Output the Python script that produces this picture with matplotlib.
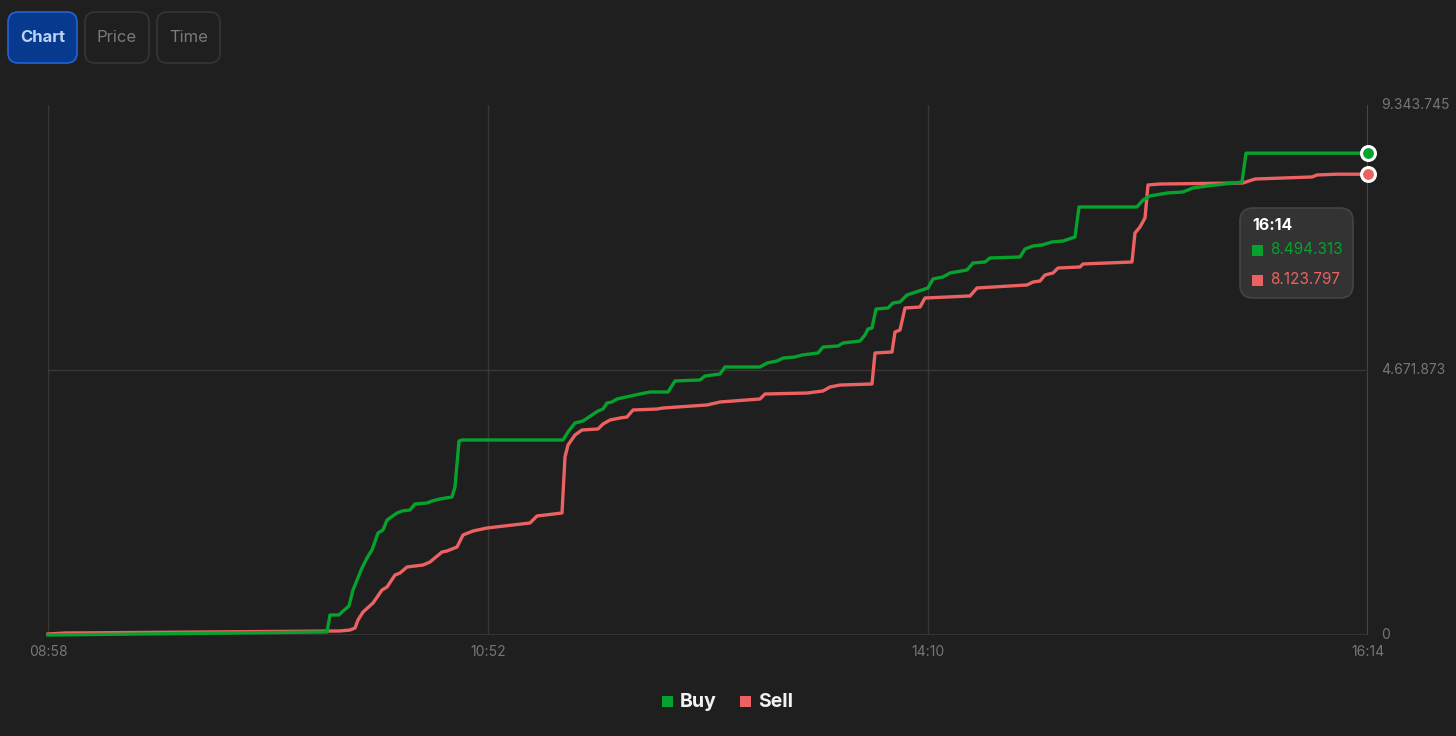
"""
Cumulative Buy / Sell volume chart (dark theme)
"""

import numpy as np
import matplotlib
matplotlib.use('Agg')
import matplotlib.pyplot as plt
from matplotlib.patches import FancyBboxPatch, Rectangle

#---------------------------------------------------------------------------------------------------
# Data (x = trade index along the session, y = cumulative volume in millions)
#---------------------------------------------------------------------------------------------------

buy_x = [0, 279, 282, 291, 294, 301, 305, 314, 319, 324, 330, 335, 339, 349, 354, 362, 367, 379,
         384, 392, 404, 407, 411, 414, 515, 520, 527, 535, 544, 550, 555, 559, 564, 569, 592, 602,
         620, 627, 652, 657, 672, 677, 712, 719, 729, 735, 747, 754, 770, 775, 790, 795, 812, 817,
         820, 824, 828, 840, 845, 852, 859, 865, 880, 885, 895, 902, 919, 925, 937, 942, 972, 977,
         985, 994, 1004, 1015, 1027, 1031, 1089, 1095, 1102, 1119, 1135, 1145, 1159, 1194, 1198, 1320]
buy_y = [0.0, 0.053, 0.353, 0.353, 0.405, 0.511, 0.793, 1.181, 1.358, 1.499, 1.798, 1.851, 2.027,
         2.151, 2.186, 2.204, 2.310, 2.327, 2.362, 2.398, 2.433, 2.609, 3.420, 3.438, 3.438, 3.579,
         3.738, 3.773, 3.879, 3.949, 3.984, 4.090, 4.108, 4.161, 4.249, 4.284, 4.284, 4.478, 4.496,
         4.566, 4.601, 4.725, 4.725, 4.795, 4.830, 4.883, 4.901, 4.936, 4.972, 5.077, 5.095, 5.148,
         5.183, 5.289, 5.395, 5.412, 5.747, 5.765, 5.853, 5.871, 5.994, 6.029, 6.118, 6.276, 6.312,
         6.382, 6.435, 6.558, 6.576, 6.647, 6.664, 6.805, 6.858, 6.876, 6.929, 6.946, 7.017, 7.546,
         7.546, 7.669, 7.740, 7.792, 7.810, 7.881, 7.916, 7.986, 8.494313, 8.494313]

sell_x = [0, 17, 292, 302, 307, 310, 315, 325, 334, 339, 347, 352, 359, 375, 382, 394, 399, 409,
          415, 425, 439, 482, 489, 514, 517, 520, 527, 534, 550, 555, 562, 572, 579, 585, 609, 615,
          659, 672, 712, 717, 759, 775, 782, 792, 824, 827, 844, 847, 852, 857, 872, 877, 922, 929,
          979, 985, 992, 997, 1005, 1010, 1032, 1035, 1084, 1087, 1092, 1097, 1100, 1112, 1195,
          1207, 1264, 1269, 1289, 1320]
sell_y = [0.018, 0.035, 0.071, 0.088, 0.123, 0.264, 0.405, 0.564, 0.793, 0.846, 1.058, 1.093,
          1.199, 1.234, 1.287, 1.463, 1.481, 1.551, 1.763, 1.834, 1.886, 1.975, 2.098, 2.151, 3.138,
          3.350, 3.526, 3.614, 3.632, 3.720, 3.790, 3.826, 3.843, 3.967, 3.984, 4.002, 4.055, 4.108,
          4.161, 4.249, 4.266, 4.302, 4.372, 4.407, 4.425, 4.972, 4.989, 5.342, 5.377, 5.765, 5.782,
          5.941, 5.977, 6.118, 6.171, 6.223, 6.241, 6.347, 6.382, 6.470, 6.488, 6.541, 6.576, 7.087,
          7.193, 7.352, 7.934, 7.951, 7.969, 8.039, 8.075, 8.110, 8.124, 8.123797]

x_ticks = [0, 440, 880, 1320]
x_labels = ['08:58', '10:52', '14:10', '16:14']
y_ticks = [0, 4671873, 9343745]

buy_last = 8494313
sell_last = 8123797
last_time = '16:14'

buttons = ['Chart', 'Price', 'Time']

#---------------------------------------------------------------------------------------------------
# Style
#---------------------------------------------------------------------------------------------------

bg = '#1f1f1f'
grid_c = '#373737'
tick_c = '#767676'
green = '#05a22e'
red = '#ec6262'
W, H = 1456, 736

plt.rcParams['font.family'] = ['Inter', 'DejaVu Sans']


def fx(px):
    return px / W


def fy(py):
    return 1 - py / H


def fmt(v):
    return f"{int(v):,}".replace(',', '.')


#---------------------------------------------------------------------------------------------------
# Make Plot
#---------------------------------------------------------------------------------------------------

fig = plt.figure(figsize=(W / 100, H / 100), dpi=100, facecolor=bg)
ax = fig.add_axes([fx(48), fy(635), fx(1320), 530 / H])
ax.set_facecolor(bg)

ax.set_xlim(x_ticks[0], x_ticks[-1])
ax.set_ylim(0, y_ticks[-1])
for s in ax.spines.values():
    s.set_visible(False)
ax.set_xticks([])
ax.set_yticks([])

# grid
for xv in x_ticks[:-1]:
    ax.axvline(xv, color=grid_c, lw=1, zorder=1)
ax.axvline(x_ticks[-1], color='#4a4a4a', lw=1.3, zorder=1)
ax.axhline(y_ticks[1], color=grid_c, lw=1, zorder=1)
ax.axhline(0, color=grid_c, lw=1.3, zorder=1)

bx = np.array(buy_x)
by = np.array(buy_y) * 1e6
sx = np.array(sell_x)
sy = np.array(sell_y) * 1e6

ax.plot(sx, sy, color=red, lw=2.4, solid_joinstyle='round', zorder=3, clip_on=False)
ax.plot(bx, by, color=green, lw=2.4, solid_joinstyle='round', zorder=3, clip_on=False)

ax.plot([bx[-1]], [by[-1]], 'o', ms=10, color=green, mec='white', mew=2.2, zorder=5, clip_on=False)
ax.plot([sx[-1]], [sy[-1]], 'o', ms=10, color=red, mec='white', mew=2.2, zorder=5, clip_on=False)

# tick labels
for xv, lab in zip(x_ticks, x_labels):
    ax.text(xv, -17 * y_ticks[-1] / 530, lab, color=tick_c, fontsize=10, ha='center', va='center')
for yv in y_ticks:
    ax.text(x_ticks[-1] + 13, yv, fmt(yv), color=tick_c, fontsize=10, ha='left', va='center',
            clip_on=False)

# buttons
btn_pos = [(8, 12, 69), (85, 12, 64), (157, 12, 63)]
for lab, (bx0, by0, bw) in zip(buttons, btn_pos):
    active = lab == 'Chart'
    p = FancyBboxPatch((fx(bx0), fy(by0 + 51)), fx(bw), 51 / H,
                       boxstyle='round,pad=0,rounding_size=0.007',
                       transform=fig.transFigure, mutation_aspect=W / H,
                       facecolor='#073a8e' if active else bg,
                       edgecolor='#2563d4' if active else '#353535', lw=1.2)
    fig.patches.append(p)
    fig.text(fx(bx0 + bw / 2), fy(by0 + 25), lab, ha='center', va='center', fontsize=12,
             color='#bcd2f4' if active else '#7a7a7a', fontweight='bold' if active else 'normal')

# tooltip
tip = FancyBboxPatch((fx(1240), fy(298)), fx(113), 90 / H,
                     boxstyle='round,pad=0,rounding_size=0.009',
                     transform=fig.transFigure, mutation_aspect=W / H,
                     facecolor='#333333', edgecolor='#444444', lw=1.2, zorder=10)
fig.patches.append(tip)
fig.text(fx(1252), fy(226), last_time, color='white', fontsize=11.5, fontweight='bold',
         ha='left', va='center', zorder=11)
for py, val, c in [(250, buy_last, green), (280, sell_last, red)]:
    fig.patches.append(Rectangle((fx(1252), fy(py + 6)), fx(11), 11 / H, transform=fig.transFigure,
                                 facecolor=c, edgecolor='none', zorder=11))
    fig.text(fx(1270), fy(py), fmt(val), color=c, fontsize=11, ha='left', va='center', zorder=11)

# legend
for px, lab, c in [(662, 'Buy', green), (740, 'Sell', red)]:
    fig.patches.append(Rectangle((fx(px), fy(707)), fx(11), 11 / H, transform=fig.transFigure,
                                 facecolor=c, edgecolor='none'))
    fig.text(fx(px + 18), fy(702), lab, color='#f2f2f2', fontsize=14, fontweight='bold',
             ha='left', va='center')

plt.savefig('out.png', dpi=100, facecolor=bg)
